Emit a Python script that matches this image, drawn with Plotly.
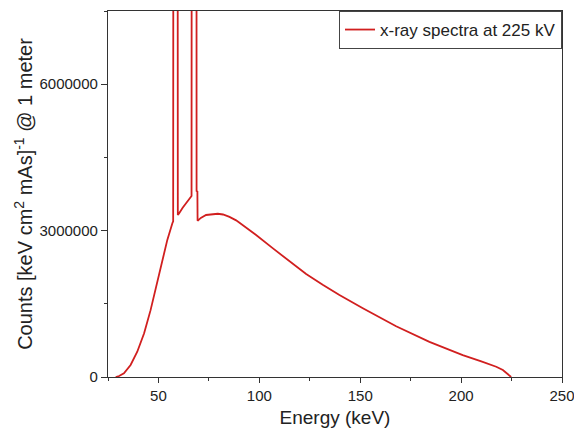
import plotly.graph_objects as go

# Energy (keV) and counts; spike tops are off-scale
energy = [28.8, 30.5, 32.9, 36.2, 39.5, 42.9, 46.1, 49.4, 51.9, 54.4, 56.9, 57.3,
          57.5, 59.4,
          59.6, 60.2, 62.0, 64.3, 66.4,
          66.6, 68.8,
          68.9, 69.3, 69.4, 71.0, 73.6, 76.5, 79.4, 82.0, 85.2, 88.5, 91.8, 98.4,
          106.6, 114.9, 123.2, 131.4, 139.7, 151.3, 167.8, 184.3, 200.8, 210.0,
          217.4, 220.7, 222.5, 224.8]
counts = [0, 20000, 76000, 246000, 518000, 895000, 1370000, 1920000, 2330000, 2810000, 3150000, 3190000,
          20000000, 20000000,
          3320000, 3350000, 3470000, 3590000, 3710000,
          20000000, 20000000,
          3800000, 3810000, 3200000, 3260000, 3320000, 3340000, 3345000, 3330000, 3280000, 3210000, 3110000, 2910000,
          2640000, 2370000, 2110000, 1890000, 1680000, 1410000, 1040000, 720000, 450000, 320000,
          210000, 143000, 80000, 0]

series_name = "x-ray spectra at 225 kV"
x_title = "Energy (keV)"
y_title = "Counts [keV cm<sup>2</sup> mAs]<sup>-1</sup> @ 1 meter"

font_family = "Liberation Sans, Arial, sans-serif"

fig = go.Figure()
fig.add_trace(go.Scatter(x=energy, y=counts, mode="lines", name=series_name,
                         line=dict(color="#d11f1f", width=1.8)))

fig.update_layout(
    width=574, height=436,
    margin=dict(l=108, r=12, t=11, b=59),
    paper_bgcolor="white", plot_bgcolor="white",
    font=dict(family=font_family, color="#222222"),
    showlegend=True,
    legend=dict(x=1, y=1, xanchor="right", yanchor="top",
                bordercolor="#444444", borderwidth=1, bgcolor="white",
                font=dict(size=17, family=font_family, color="#222222"),
                tracegroupgap=0, itemwidth=30),
)
fig.update_xaxes(
    range=[25, 250], dtick=50, tick0=0, automargin=False, ticklabeloverflow="allow",
    showline=True, linecolor="#333333", linewidth=1.2, mirror=True,
    ticks="outside", ticklen=5, tickcolor="#333333",
    minor=dict(dtick=25, tick0=0, ticks="outside", ticklen=3, tickcolor="#333333"),
    showgrid=False, zeroline=False,
    tickfont=dict(size=15, family=font_family, color="#222222"),
    title=dict(text=x_title, font=dict(size=19, family=font_family, color="#222222"), standoff=7),
)
fig.update_yaxes(
    range=[0, 7500000], dtick=3000000, tick0=0, tickformat="d", automargin=False,
    showline=True, linecolor="#333333", linewidth=1.2, mirror=True,
    ticks="outside", ticklen=6, tickcolor="#333333",
    minor=dict(dtick=1500000, tick0=0, ticks="outside", ticklen=3, tickcolor="#333333"),
    showgrid=False, zeroline=False,
    tickfont=dict(size=15, family=font_family, color="#222222"),
    title=dict(text=y_title, font=dict(size=20, family=font_family, color="#222222"), standoff=1),
)

fig.write_html("out.html", config={"displayModeBar": False},
               post_script="document.body.style.margin='0';document.body.style.overflow='hidden';")
